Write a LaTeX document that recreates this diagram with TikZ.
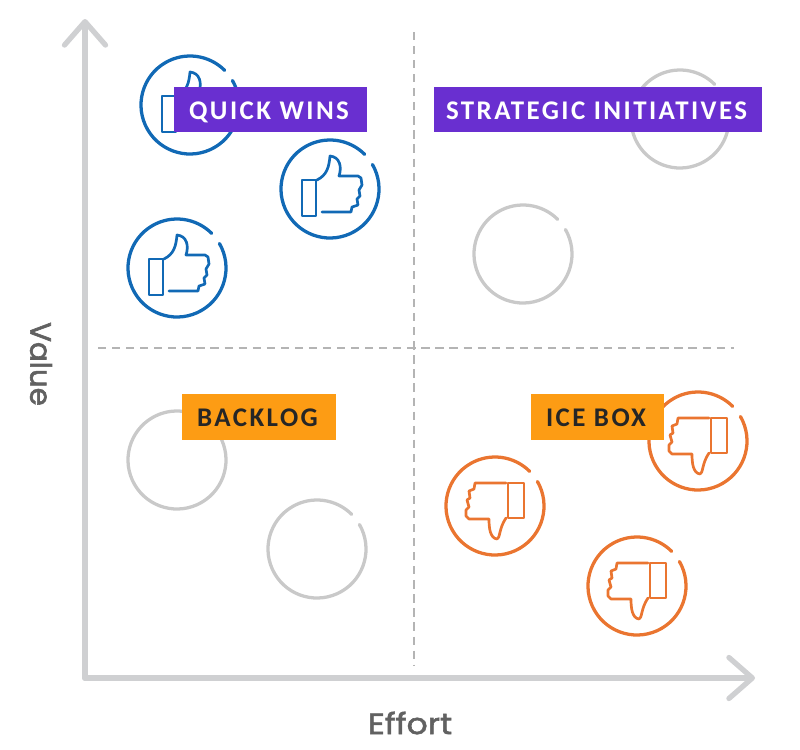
\documentclass[tikz,border=0pt]{standalone}
\usepackage{xcolor}
\usepackage{fontspec}
\usepackage{tikz}
\usetikzlibrary{arrows.meta, positioning}

\newfontfamily\tagfont[LetterSpace=9]{Carlito}
\newfontfamily\valuefont[FakeBold=2]{Poppins}
\newfontfamily\effortfont[FakeBold=2, FakeStretch=1.13]{Poppins}

\definecolor{axisgray}{HTML}{CFD0D2}
\definecolor{ringgray}{HTML}{C9C9C9}
\definecolor{dashgray}{HTML}{B4B4B4}
\definecolor{upblue}{HTML}{1169B5}
\definecolor{downorange}{HTML}{EA7530}
\definecolor{tagpurple}{HTML}{692FD0}
\definecolor{tagorange}{HTML}{FD9C14}

\begin{document}
\begin{tikzpicture}[
    x=0.03cm, y=-0.03cm,
    axis/.style={-{Straight Barb[length=20pt, width=35pt, line width=4.5pt, round]}, line width=5pt, axisgray, line cap=round},
    divider/.style={dashgray, line width=1pt, dash pattern=on 7pt off 5pt},
    axislabel/.style={text=black!62, inner sep=0pt},
    tag/.style={rectangle, inner sep=0pt, minimum height=38.5pt, text height=17pt, text depth=0pt,
        execute at end node={\hskip2.5pt}, font=\tagfont\bfseries\fontsize{23}{25}\selectfont},
    tagup/.style={tag, fill=tagpurple, text=white},
    tagdown/.style={tag, fill=tagorange, text=black!85},
    ringline/.style={line width=2.8pt, line cap=round, line join=round},
    iconline/.style={ringline, line width=2.3pt},
    ring/.pic={
        \draw[ringline, ringgray] (-30:49) arc[start angle=-30, end angle=315, radius=49];
    },
    thumbup/.pic={
        \draw[ringline, upblue] (-30:49) arc[start angle=-30, end angle=315, radius=49];
        \draw[iconline, upblue] (-14,-9) -- (-28,-9) -- (-28,27) -- (-14,27) -- cycle;
        \draw[iconline, upblue] (-8,23) -- (21,23) -- (22,18) -- (28,16) -- (27,10) -- (30,7)
            -- (29,1) -- (32,-4) -- (31,-11) -- (28,-13) -- (9,-13) .. controls (12,-22) and (10,-32) .. (0,-33)
            .. controls (-1,-22) and (-3,-14) .. (-13,-9);
    },
    thumbdown/.pic={
        \draw[ringline, downorange] (-30:49) arc[start angle=-30, end angle=315, radius=49];
        \draw[iconline, downorange] (13,-23) -- (29,-23) -- (29,12) -- (13,12) -- cycle;
        \draw[iconline, downorange] (11,-23) -- (-20,-23) -- (-21,-17) -- (-26,-15) -- (-25,-8) -- (-28,-6)
            -- (-26,1) -- (-29,4) -- (-29,10) -- (-26,13) -- (-6,13) .. controls (-6,22) and (-5,32) .. (2,33)
            .. controls (5,33) and (4,22) .. (11,12);
    },
]
\useasboundingbox (0,0) rectangle (800,750);

% axes
\coordinate (origin) at (85,678);
\coordinate (valuetip) at (85,19);
\coordinate (efforttip) at (755,678);
\draw[axis] (origin) -- (valuetip);
\draw[axis] (origin) -- (efforttip);
\node[axislabel, rotate=-90, font=\valuefont\fontsize{25}{27}\selectfont] (value) at (41,364) {Value};
\node[axislabel, font=\effortfont\fontsize{25}{27}\selectfont] (effort) at (410,723) {Effort};

% quadrant dividers
\coordinate (divtop) at (414,32);
\coordinate (divbottom) at (414,665);
\coordinate (divleft) at (98,348);
\coordinate (divright) at (734,348);
\draw[divider] (divtop) -- (divbottom);
\draw[divider] (divleft) -- (divright);

% icons
\pic (upa) at (190,105) {thumbup};
\pic (upb) at (330,189) {thumbup};
\pic (upc) at (177,268) {thumbup};
\pic (ringa) at (680,119) {ring};
\pic (ringb) at (523,254) {ring};
\pic (ringc) at (177,460) {ring};
\pic (ringd) at (317,549) {ring};
\pic (downa) at (698,441) {thumbdown};
\pic (downb) at (495,506) {thumbdown};
\pic (downc) at (637,586) {thumbdown};

% quadrant tags
\node[tagup, minimum width=164pt] (quick) at (270.5,109.5) {QUICK WINS};
\node[tagup, minimum width=280.5pt] (strategic) at (598,109.5) {STRATEGIC INITIATIVES};
\node[tagdown, minimum width=131pt] (backlog) at (259,417) {BACKLOG};
\node[tagdown, minimum width=113pt] (icebox) at (597.5,417) {ICE BOX};

\end{tikzpicture}
\end{document}
